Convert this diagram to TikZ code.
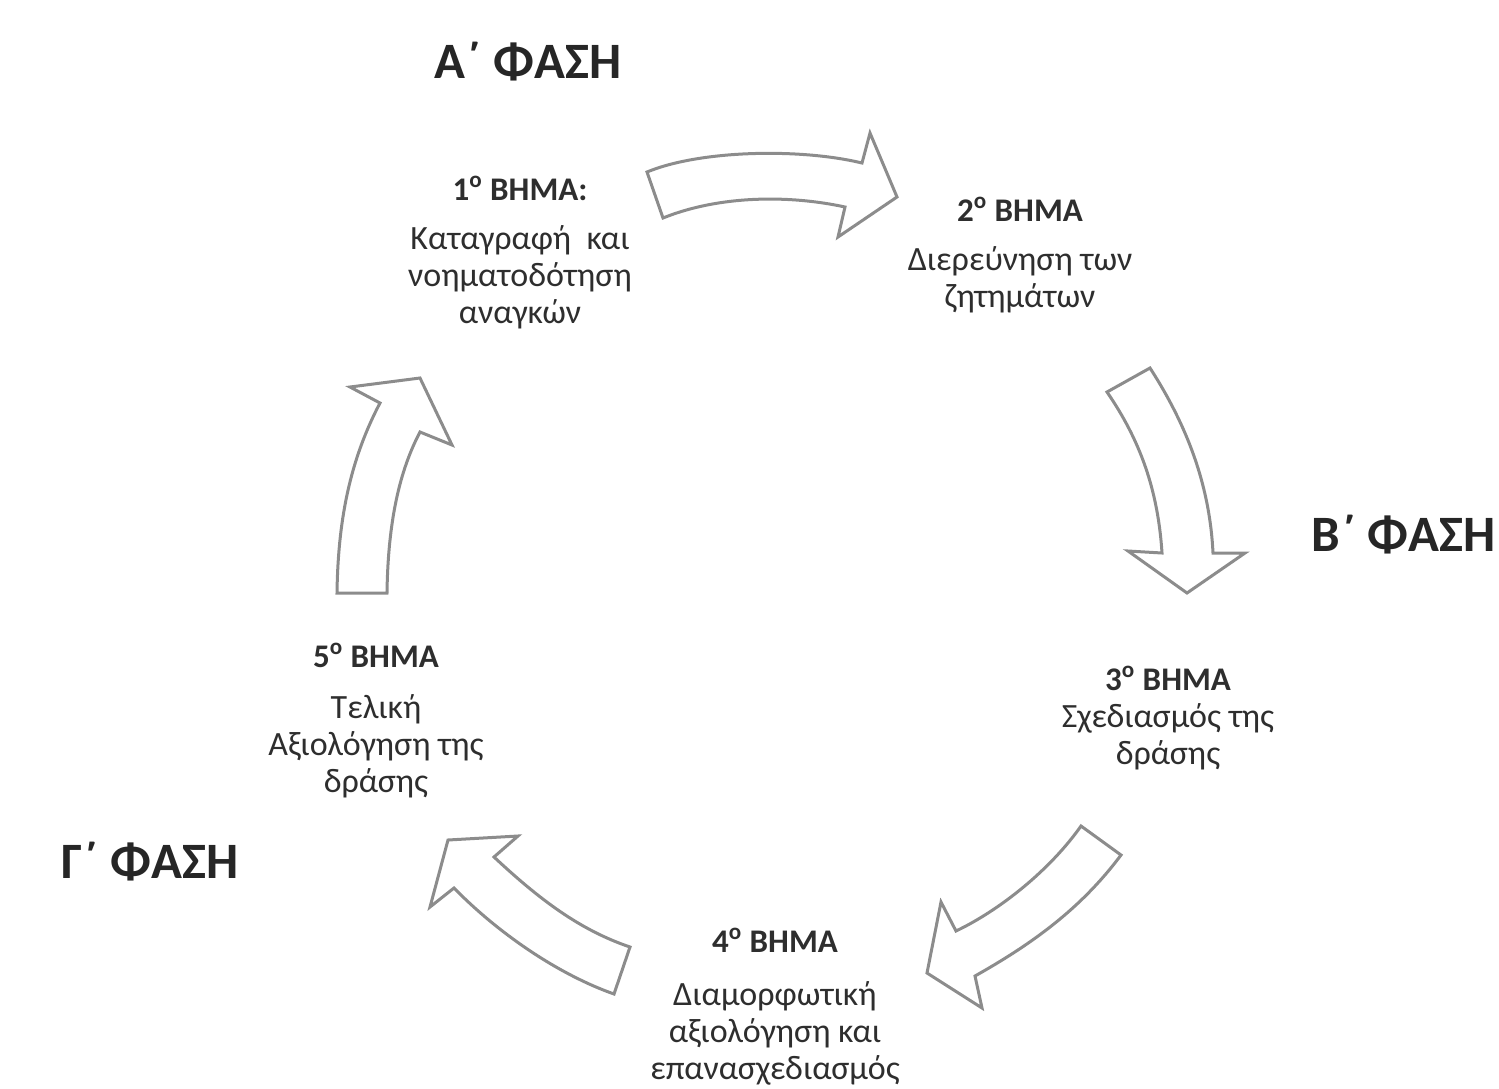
\documentclass[tikz,border=0pt]{standalone}
\usepackage{fontspec}
\setmainfont{Carlito}
\definecolor{arrowgray}{HTML}{8C8C8C}
\definecolor{txt}{HTML}{2E2E2E}
\begin{document}
\begin{tikzpicture}[x=0.5pt,y=-0.5pt,
  blockarrow/.style={draw=arrowgray,line width=1.5pt,fill=white,line join=miter},
  phase/.style={font=\fontsize{25.5}{30}\selectfont\bfseries,text=black!85,inner sep=0pt},
  stepbox/.style={align=center,font=\fontsize{17}{18.5}\selectfont,text=txt,inner sep=0pt}]
\useasboundingbox (0,0) rectangle (1499,1088);
\newcommand{\stephead}[1]{{\fontsize{16.5}{18.5}\selectfont\bfseries #1}}
% phases
\node[phase] (pa) at (528,62) {Α΄ ΦΑΣΗ};
\node[phase,anchor=east] (pb) at (1496,535) {Β΄ ΦΑΣΗ};
\node[phase] (pc) at (150,862) {Γ΄ ΦΑΣΗ};
% steps
\node[stepbox,anchor=north] (s1) at (520,176) {\stephead{1\textsuperscript{ο} ΒΗΜΑ:}\\[6pt]Καταγραφή\ \ και\\νοηματοδότηση\\αναγκών};
\node[stepbox,anchor=north] (s2) at (1020,197) {\stephead{2\textsuperscript{ο} ΒΗΜΑ}\\[6pt]Διερεύνηση των\\ζητημάτων};
\node[stepbox,anchor=north] (s3) at (1168,666) {\stephead{3\textsuperscript{ο} ΒΗΜΑ}\\Σχεδιασμός της\\δράσης};
\node[stepbox,anchor=north] (s4) at (775,928) {\stephead{4\textsuperscript{ο} ΒΗΜΑ}\\[8pt]Διαμορφωτική\\αξιολόγηση και\\επανασχεδιασμός};
\node[stepbox,anchor=north] (s5) at (376,643) {\stephead{5\textsuperscript{ο} ΒΗΜΑ}\\[7pt]Τελική\\Αξιολόγηση της\\δράσης};
% block arrows
\draw[blockarrow] (647,172) .. controls (700,150) and (800,148) .. (862,163) -- (870,133) -- (897,197) -- (838,237) -- (845,207) .. controls (790,195) and (720,195) .. (663,218) -- cycle;
\draw[blockarrow] (1107,392) -- (1150,368) .. controls (1190,430) and (1210,490) .. (1213,553) -- (1245,553) -- (1187,593) -- (1128,551) -- (1162,553) .. controls (1158,490) and (1140,440) .. (1107,392) -- cycle;
\draw[blockarrow] (1081,826) -- (1121,855) .. controls (1080,910) and (1030,945) .. (975,976) -- (982,1008) -- (927,973) -- (941,902) -- (956,931) .. controls (1000,910) and (1050,870) .. (1081,826) -- cycle;
\draw[blockarrow] (448,840) -- (518,836) -- (494,857) .. controls (540,900) and (580,930) .. (630,947) -- (614,994) .. controls (560,975) and (500,935) .. (454,888) -- (430,907) -- cycle;
\draw[blockarrow] (337,593) -- (387,593) .. controls (388,520) and (400,470) .. (420,432) -- (452,445) -- (420,378) -- (350,387) -- (380,403) .. controls (350,460) and (338,520) .. (337,593) -- cycle;
\end{tikzpicture}
\end{document}
